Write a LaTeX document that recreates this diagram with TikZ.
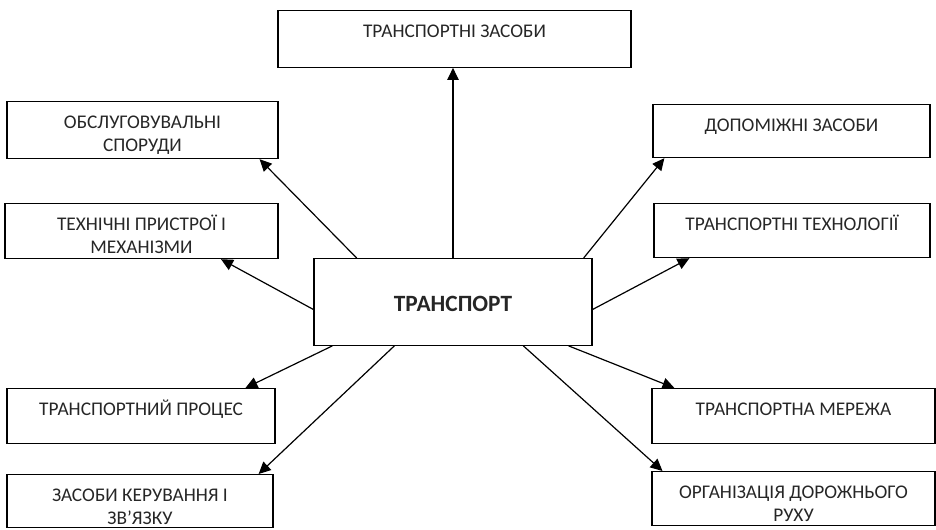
\documentclass[tikz,border=0pt]{standalone}
\usepackage{fontspec}
\setmainfont{Carlito}
\usetikzlibrary{arrows.meta,calc}

\tikzset{
  box/.style={draw, line width=0.9pt, anchor=north, align=center,
    inner xsep=0pt, inner ysep=0pt, text=black!85,
    font=\fontsize{14.5}{17.25}\selectfont, text height=20pt, text depth=21pt},
  box2/.style={box, text height=37.25pt, text depth=4pt},
  hub/.style={box, font=\fontsize{17.5}{20}\selectfont\bfseries,
    text height=40pt, text depth=25pt},
  arr/.style={line width=0.9pt, -{Triangle[length=9pt,width=8.5pt]}}
}

\begin{document}
\begin{tikzpicture}[x=0.75pt, y=-0.75pt]
\useasboundingbox (0,0) rectangle (936,530);

% central box
\node[hub, minimum width=208.5pt] (core) at (453,258) {ТРАНСПОРТ};

% boxes round it
\node[box, minimum width=264.75pt, text depth=22.5pt] (tz) at (454.5,10) {ТРАНСПОРТНІ ЗАСОБИ};
\node[box2, minimum width=203.25pt, text depth=5.5pt] (os) at (142.5,101) {ОБСЛУГОВУВАЛЬНІ\\СПОРУДИ};
\node[box2, minimum width=204.75pt] (tp) at (141.5,203) {ТЕХНІЧНІ ПРИСТРОЇ І\\МЕХАНІЗМИ};
\node[box, minimum width=207.75pt, text depth=19.75pt] (dz) at (791.5,104) {ДОПОМІЖНІ ЗАСОБИ};
\node[box, minimum width=207pt, text depth=20.5pt] (tt) at (792,203) {ТРАНСПОРТНІ ТЕХНОЛОГІЇ};
\node[box, minimum width=201pt] (pr) at (141,388) {ТРАНСПОРТНИЙ ПРОЦЕС};
\node[box2, minimum width=199.5pt, text depth=2.5pt] (zk) at (140,474) {ЗАСОБИ КЕРУВАННЯ І\\ЗВ’ЯЗКУ};
\node[box, minimum width=212.25pt] (mr) at (793.5,388) {ТРАНСПОРТНА МЕРЕЖА};
\node[box2, minimum width=212.25pt, text depth=3.25pt] (od) at (793.5,471) {ОРГАНІЗАЦІЯ ДОРОЖНЬОГО\\РУХУ};

% connectors
\draw[arr] (core.north) -- (core.north |- tz.south);
\draw[arr] ($(core.north west)!0.155!(core.north east)$) -- ($(os.south west)!0.93!(os.south east)$);
\draw[arr] ($(core.north west)!0.968!(core.north east)$) -- ($(dz.south west)!0.043!(dz.south east)$);
\draw[arr] ($(core.north west)!0.586!(core.south west)$) -- ($(tp.south west)!0.79!(tp.south east)$);
\draw[arr] ($(core.north east)!0.586!(core.south east)$) -- ($(tt.south west)!0.13!(tt.south east)$);
\draw[arr] ($(core.south west)!0.068!(core.south east)$) -- ($(pr.north west)!0.888!(pr.north east)$);
\draw[arr] ($(core.south west)!0.29!(core.south east)$) -- ($(zk.north west)!0.944!(zk.north east)$);
\draw[arr] ($(core.south west)!0.914!(core.south east)$) -- ($(mr.north west)!0.081!(mr.north east)$);
\draw[arr] ($(core.south west)!0.752!(core.south east)$) -- ($(od.north west)!0.039!(od.north east)$);
\end{tikzpicture}
\end{document}
